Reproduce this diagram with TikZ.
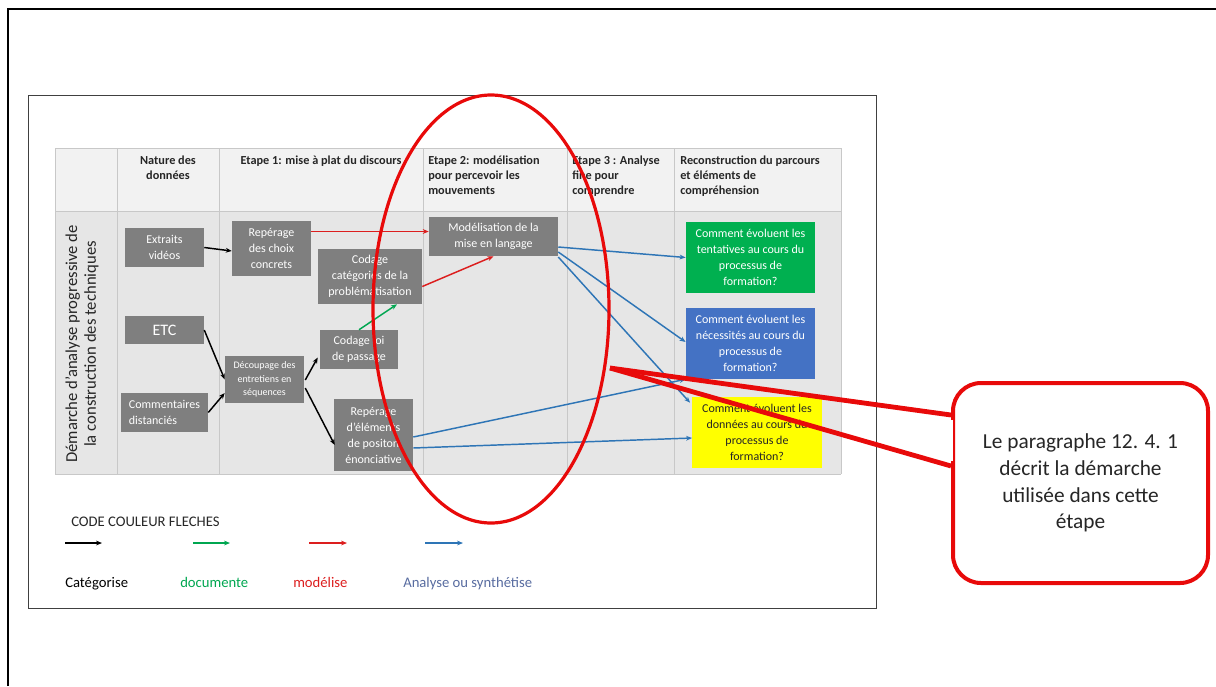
\documentclass[tikz,border=0pt]{standalone}
\usepackage{fontspec}
\setmainfont{Carlito}
\usetikzlibrary{arrows.meta,calc}
\definecolor{boxgray}{RGB}{127,127,127}
\definecolor{headgray}{RGB}{242,242,242}
\definecolor{bodygray}{RGB}{230,230,230}
\definecolor{gridgray}{RGB}{200,200,200}
\definecolor{qgreen}{RGB}{0,176,80}
\definecolor{qblue}{RGB}{68,114,196}
\definecolor{qyellow}{RGB}{255,255,0}
\definecolor{arrgreen}{RGB}{0,166,80}
\definecolor{arrred}{RGB}{220,30,30}
\definecolor{arrblue}{RGB}{46,117,182}
\definecolor{legblue}{RGB}{88,108,160}
\definecolor{markred}{RGB}{232,10,10}
\definecolor{txtdark}{RGB}{38,38,38}

\begin{document}
\begin{tikzpicture}[x=0.75pt,y=-0.75pt,
  box/.style={fill=boxgray,text=white,inner sep=0pt,align=center,font=\fontsize{9}{12}\selectfont},
  qbox/.style={inner sep=0pt,align=center,minimum width=97pt,minimum height=53.25pt,font=\fontsize{9}{12}\selectfont},
  head/.style={inner sep=0pt,text=txtdark,font=\bfseries\fontsize{9.2}{11.25}\selectfont},
  leg/.style={inner sep=0pt,anchor=base west,font=\fontsize{11}{13}\selectfont},
  arr/.style={line width=1.1pt,-{Stealth[length=4.5pt,width=3.6pt]}},
  ring/.style={markred,line width=2.4pt}]

\useasboundingbox (0,0) rectangle (1216,686);

% frames
\draw[line width=1.5pt] (8,686) -- (8,9) -- (1216,9);
\draw[line width=0.75pt,black!75] (28,95) rectangle (876,608);

% table
\fill[headgray] (55,148) rectangle (841,211);
\fill[bodygray] (55,211) rectangle (841,474);
\foreach \x in {55,117,219,423,567,674,841}
  \draw[gridgray,line width=0.75pt] (\x,148) -- (\x,474);
\foreach \y in {148,211,474}
  \draw[gridgray,line width=0.75pt] (55,\y) -- (841,\y);

%headers
\node[head,anchor=north,align=center] (h1) at (168,156) {Nature des\\donn\'ees};
\node[head,anchor=north,align=center] (h2) at (321,156) {Etape 1: mise \`a plat du discours};
\node[head,anchor=north west,align=left] (h3) at (428,156) {Etape 2: mod\'elisation\\pour percevoir les\\mouvements};
\node[head,anchor=north west,align=left] (h4) at (572,156) {Etape 3 : Analyse\\fine pour\\comprendre};
\node[head,anchor=north west,align=left] (h5) at (680,156) {Reconstruction du parcours\\et \'el\'ements de\\compr\'ehension};

\node[rotate=90,inner sep=0pt,align=center,text=txtdark,font=\fontsize{12.5}{14}\selectfont] (side) at (82,344)
  {D\'emarche d’analyse progressive de\\la construction des techniques};

% boxes
\node[box,minimum width=59.25pt,minimum height=29.25pt] (ext) at (164.5,247.5) {Extraits\\vid\'eos};
\node[box,minimum width=59.25pt,minimum height=21pt,font=\fontsize{12}{14}\selectfont] (etc) at (164.5,330) {ETC};
\node[box,minimum width=65.25pt,minimum height=29.25pt,align=left] (com) at (164.5,412.5) {Commentaires\\distanci\'es};
\node[box,minimum width=59.25pt,minimum height=41.25pt] (rep) at (271.5,248.5) {Rep\'erage\\des choix\\concrets};
\node[box,minimum width=59.25pt,minimum height=35.25pt,font=\fontsize{7.5}{10}\selectfont] (dec) at (264.5,379.5) {D\'ecoupage des\\entretiens en\\s\'equences};
\node[box,minimum width=78pt,minimum height=41.25pt] (cat) at (370,276.5) {Codage\\cat\'egories de la\\probl\'ematisation};
\node[box,minimum width=58.5pt,minimum height=29.25pt] (loi) at (359,349.5) {Codage loi\\de passage};
\node[box,minimum width=59.25pt,minimum height=54pt] (pos) at (373.5,435) {Rep\'erage\\d’\'el\'ements\\de positon\\\'enonciative};
\node[box,minimum width=96.75pt,minimum height=29.25pt] (mod) at (493.5,236.5) {Mod\'elisation de la\\mise en langage};

\node[qbox,fill=qgreen,text=white] (qg) at (750.5,257.5) {Comment \'evoluent les\\tentatives au cours du\\processus de\\formation?};
\node[qbox,fill=qblue,text=white] (qb) at (750.5,343.5) {Comment \'evoluent les\\n\'ecessit\'es au cours du\\processus de\\formation?};
\node[qbox,fill=qyellow,text=txtdark] (qy) at (757,432.5) {Comment \'evoluent les\\donn\'ees au cours du\\processus de\\formation?};

% arrows
\draw[arr] (ext.east) -- ($(rep.west)+(0,2.5)$);
\draw[arr] (etc.east) -- (dec.west);
\draw[arr] (com.east) -- ($(dec.west)+(0,13.5)$);
\draw[arr] ($(dec.east)+(1,0.5)$) -- ($(loi.west)+(-2,8)$);
\draw[arr] ($(dec.east)+(1,8.5)$) -- ($(pos.west)+(1,10)$);
\draw[arr,arrgreen] (loi.north) -- ($(cat.south)+(27,0)$);
\draw[arr,arrred] ($(rep.east)+(0,-17)$) -- ($(mod.west)+(0,-5)$);
\draw[arr,arrred] ($(cat.east)+(0,10)$) -- (mod.south);
\draw[arr,arrblue] ($(mod.east)+(0,10.5)$) -- (qg.west);
\draw[arr,arrblue] ($(mod.east)+(0,15.5)$) -- ($(qb.west)+(0,-1.5)$);
\draw[arr,arrblue] ($(mod.east)+(0,20.5)$) -- ($(qy.north west)+(-2,6)$);
\draw[arr,arrblue] ($(pos.east)+(0,2)$) -- (qb.south west);
\draw[arr,arrblue] ($(pos.east)+(0,13)$) -- ($(qy.west)+(0,5.5)$);

% legend
\node[leg,text=txtdark] (code) at (71,526) {CODE COULEUR FLECHES};
\coordinate (k1) at (65,543);  \coordinate (k2) at (102,543);
\coordinate (g1) at (193,543); \coordinate (g2) at (230,543);
\coordinate (r1) at (309,543); \coordinate (r2) at (347,543);
\coordinate (b1) at (425,543); \coordinate (b2) at (463,543);
\draw[arr] (k1) -- (k2);
\draw[arr,arrgreen] (g1) -- (g2);
\draw[arr,arrred] (r1) -- (r2);
\draw[arr,arrblue] (b1) -- (b2);
\node[leg,text=black] (lk) at (65,587) {Cat\'egorise};
\node[leg,text=arrgreen] (lg) at (180,587) {documente};
\node[leg,text=arrred] (lr) at (293,587) {mod\'elise};
\node[leg,text=legblue] (lb) at (403,587) {Analyse ou synth\'etise};

% ellipse and callout
\draw[ring] (491,309) ellipse [x radius=118,y radius=214];
\coordinate (tip) at (610,368);
\node[draw=markred,line width=3pt,rounded corners=21pt,fill=white,minimum width=191.25pt,minimum height=150pt,
  align=center,text=txtdark,font=\fontsize{16}{20}\selectfont] (note) at (1080.5,483)
  {Le paragraphe 12. 4. 1\\d\'ecrit la d\'emarche\\utilis\'ee dans cette\\\'etape};
\draw[white,line width=3.6pt] ($(note.north west)+(0,39)$) -- ($(note.north west)+(0,80)$);
\draw[markred,line width=3.6pt] (tip) -- ($(note.north west)+(0,34)$);
\draw[markred,line width=3.6pt] (tip) -- ($(note.north west)+(0,85)$);
\end{tikzpicture}
\end{document}
